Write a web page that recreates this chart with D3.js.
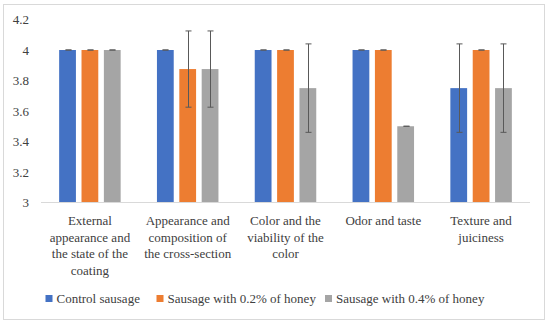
<!DOCTYPE html>
<html>
<head>
<meta charset="utf-8">
<script src="https://cdn.jsdelivr.net/npm/d3@7"></script>
</head>
<body style="margin:0">
<script>
// categories (x axis), split into the lines shown under each group
var categories = ["External appearance", "Appearance and composition", "Color", "Odor and taste", "Texture and juiciness"];
var categoryLines = [
    ["External", "appearance and", "the state of the", "coating"],
    ["Appearance and", "composition of", "the cross-section"],
    ["Color and the", "viability of the", "color"],
    ["Odor and taste"],
    ["Texture and", "juiciness"]
];
var seriesNames = ["Control sausage", "Sausage with 0.2% of honey", "Sausage with 0.4% of honey"];
var seriesColors = ["#4472C4", "#ED7D31", "#A5A5A5"];

// mean scores
var controlValues = [4, 4, 4, 4, 3.75];
var honey02Values = [4, 3.875, 4, 4, 4];
var honey04Values = [4, 3.875, 3.75, 3.5, 3.75];
// error (+/-)
var controlErrors = [0, 0, 0, 0, 0.29];
var honey02Errors = [0, 0.25, 0, 0, 0];
var honey04Errors = [0, 0.25, 0.29, 0, 0.29];

var yTicks = [3, 3.2, 3.4, 3.6, 3.8, 4, 4.2];

var FONT = "Liberation Serif";
var TEXT_COLOR = "#404040";

var width = 550, height = 325;
var margin = { top: 19.5, right: 20, bottom: 122, left: 41 };

var svg = d3.select("body")
    .append("svg")
    .attr("width", width)
    .attr("height", height)
    .attr("font-family", FONT)
    .attr("font-size", 13);

// outer frame
svg.append("rect")
    .attr("x", 3.5).attr("y", 4.5)
    .attr("width", 541).attr("height", 315)
    .attr("fill", "white")
    .attr("stroke", "#d9d9d9");

var x = d3.scaleBand()
    .domain(categories)
    .range([margin.left, width - margin.right]);

var y = d3.scaleLinear()
    .domain([3, 4.2])
    .range([height - margin.bottom - 0.5, margin.top]);

var inner = d3.scaleBand()
    .domain([0, 1, 2])
    .range([0, 61.5])
    .paddingInner(0.25);

// y axis labels (no axis line)
var yAxis = d3.axisLeft(y)
    .tickValues(yTicks)
    .tickSize(0)
    .tickPadding(12)
    .tickFormat(function (d) { return d3.format("~g")(d); });

var gy = svg.append("g")
    .attr("transform", "translate(" + margin.left + ",0)")
    .call(yAxis)
    .attr("font-family", FONT)
    .attr("font-size", 13);
gy.select(".domain").remove();
gy.selectAll("text")
    .attr("font-family", FONT)
    .attr("font-size", 13)
    .attr("fill", TEXT_COLOR);

// bars
var series = [
    { values: controlValues, errors: controlErrors },
    { values: honey02Values, errors: honey02Errors },
    { values: honey04Values, errors: honey04Errors }
];

function barX(c, si) {
    return x(c) + (x.bandwidth() - 61.5) / 2 + inner(si);
}

series.forEach(function (s, si) {
    svg.append("g")
        .selectAll("rect")
        .data(categories)
        .enter()
        .append("rect")
        .attr("x", function (d) { return barX(d, si); })
        .attr("y", function (d, i) { return y(s.values[i]); })
        .attr("width", inner.bandwidth())
        .attr("height", function (d, i) { return y(3) - y(s.values[i]); })
        .attr("fill", seriesColors[si]);
});

// x axis line
svg.append("line")
    .attr("x1", margin.left).attr("x2", width - margin.right)
    .attr("y1", y(3)).attr("y2", y(3))
    .attr("stroke", "#d9d9d9")
    .attr("stroke-width", 1);

// error bars
series.forEach(function (s, si) {
    var g = svg.append("g");
    categories.forEach(function (c, i) {
        var cx = Math.round(barX(c, si) + inner.bandwidth() / 2) + 0.5;
        var hi = y(s.values[i] + s.errors[i]);
        var lo = y(s.values[i] - s.errors[i]);
        g.append("line")
            .attr("x1", cx).attr("x2", cx)
            .attr("y1", hi).attr("y2", lo)
            .attr("stroke", "#595959").attr("stroke-width", 1);
        [hi, lo].forEach(function (yy) {
            g.append("line")
                .attr("x1", cx - 3).attr("x2", cx + 3)
                .attr("y1", yy).attr("y2", yy)
                .attr("stroke", "#595959").attr("stroke-width", 1);
        });
    });
});

// category labels
categories.forEach(function (c, i) {
    var cx = x(c) + x.bandwidth() / 2;
    var t = svg.append("text")
        .attr("x", cx)
        .attr("y", 225)
        .attr("text-anchor", "middle")
        .attr("font-family", FONT)
        .attr("font-size", 13)
        .attr("fill", TEXT_COLOR);
    categoryLines[i].forEach(function (line, li) {
        t.append("tspan")
            .attr("x", cx)
            .attr("dy", li === 0 ? 0 : 16.7)
            .text(line);
    });
});

// legend
var legendX = [45.5, 156.5, 325];
seriesNames.forEach(function (name, i) {
    svg.append("rect")
        .attr("x", legendX[i]).attr("y", 295)
        .attr("width", 7).attr("height", 7)
        .attr("fill", seriesColors[i]);
    svg.append("text")
        .attr("x", legendX[i] + 11)
        .attr("y", 303)
        .attr("font-family", FONT)
        .attr("font-size", 13)
        .attr("fill", TEXT_COLOR)
        .text(name);
});
</script>
</body>
</html>
